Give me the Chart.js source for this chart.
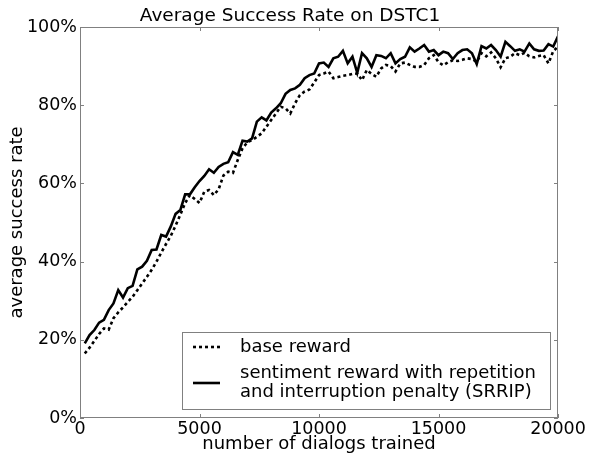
<!DOCTYPE html>
<html><head><meta charset="utf-8">
<script src="https://cdn.jsdelivr.net/npm/chart.js@4"></script>
<style>html,body{margin:0;padding:0;background:#fff}</style>
</head><body>
<canvas id="c" width="589" height="454"></canvas>
<script>
const dialogs = [200,400,600,800,1000,1200,1400,1600,1800,2000,2200,2400,2600,2800,3000,3200,3400,3600,3800,4000,
4200,4400,4600,4800,5000,5200,5400,5600,5800,6000,6200,6400,6600,6800,7000,7200,7400,7600,7800,8000,
8200,8400,8600,8800,9000,9200,9400,9600,9800,10000,10200,10400,10600,10800,11000,11200,11400,11600,11800,12000,
12200,12400,12600,12800,13000,13200,13400,13600,13800,14000,14200,14400,14600,14800,15000,15200,15400,15600,15800,16000,
16200,16400,16600,16800,17000,17200,17400,17600,17800,18000,18200,18400,18600,18800,19000,19200,19400,19600,19800,20000];
const baseReward = [16.5,18.0,19.7,21.5,22.9,22.6,25.5,27.0,28.3,29.7,31.0,32.7,34.4,36.1,37.9,40.0,42.3,44.5,46.6,49.2,
52.0,55.0,57.0,56.0,55.0,57.9,58.3,57.0,58.5,62.0,63.0,62.7,66.0,69.0,70.5,71.1,71.9,72.8,74.5,76.2,
77.9,79.6,79.2,77.9,80.5,82.6,83.5,84.0,85.8,87.7,88.1,88.6,86.9,87.2,87.5,87.7,88.0,88.1,86.4,89.0,
88.0,87.3,89.4,90.3,90.0,88.6,90.7,90.9,90.3,89.8,89.8,90.3,92.0,92.8,91.0,90.2,91.0,91.5,91.3,91.6,
92.0,91.8,91.1,93.3,92.5,93.5,92.0,89.7,92.0,92.4,93.3,92.8,93.4,92.5,92.2,92.6,92.8,90.7,93.8,95.0];
const srrip = [19.1,21.2,22.5,24.4,25.1,27.6,29.3,32.7,30.8,33.2,33.8,38.0,38.7,40.2,43.0,43.1,46.8,46.4,49.0,52.2,
53.2,57.2,57.2,59.0,60.6,61.9,63.6,62.7,64.2,65.0,65.4,68.0,67.3,70.9,70.7,71.5,75.8,76.9,76.1,78.1,
79.2,80.5,82.9,83.9,84.3,85.2,86.9,87.7,88.1,90.7,90.9,89.8,92.0,92.4,93.9,90.7,92.4,88.3,93.3,92.0,
89.8,92.8,92.6,92.0,93.3,90.7,91.8,92.4,94.8,93.7,94.5,95.4,93.7,94.1,92.8,93.7,93.3,91.8,93.3,94.1,
94.3,93.3,90.5,95.1,94.5,95.4,94.1,92.4,96.2,95.1,93.9,94.3,93.7,95.8,94.3,93.9,94.0,95.6,95.0,97.6];
const xTicks = [0,5000,10000,15000,20000];
const yTicks = [0,20,40,60,80,100];
const titleText = 'Average Success Rate on DSTC1';
const xTitle = 'number of dialogs trained';
const yTitle = 'average success rate';
const legendBase = ['base reward'];
const legendSrrip = ['sentiment reward with repetition','and interruption penalty (SRRIP)'];

const FONT = "'DejaVu Sans', sans-serif";
const AXIS_GRAY = '#808080';

const toPts = (ys) => ys.map((v, i) => ({x: dialogs[i], y: v}));

const framePlugin = {
  id: 'frame',
  afterDatasetsDraw(chart) {
    const {ctx, chartArea: a, scales} = chart;
    ctx.save();
    ctx.strokeStyle = AXIS_GRAY;
    ctx.lineWidth = 1;
    ctx.strokeRect(a.left + 0.5, a.top + 0.5, a.right - a.left - 1, a.bottom - a.top - 1);
    ctx.beginPath();
    const tl = 4;
    xTicks.forEach(v => {
      const px = Math.round(scales.x.getPixelForValue(v)) + 0.5;
      ctx.moveTo(px, a.bottom); ctx.lineTo(px, a.bottom - tl);
      ctx.moveTo(px, a.top); ctx.lineTo(px, a.top + tl);
    });
    yTicks.forEach(v => {
      const py = Math.round(scales.y.getPixelForValue(v)) + 0.5;
      ctx.moveTo(a.left, py); ctx.lineTo(a.left + tl, py);
      ctx.moveTo(a.right, py); ctx.lineTo(a.right - tl, py);
    });
    ctx.stroke();

    // legend
    const bx = 182, by = 332, bw = 368, bh = 77;
    ctx.fillStyle = '#fff';
    ctx.fillRect(bx, by, bw, bh);
    ctx.strokeStyle = AXIS_GRAY;
    ctx.strokeRect(bx + 0.5, by + 0.5, bw, bh);
    const ds = chart.data.datasets;
    ctx.fillStyle = '#000';
    ctx.font = '18px ' + FONT;
    ctx.textBaseline = 'middle';
    ctx.textAlign = 'left';
    ctx.strokeStyle = ds[0].borderColor;
    ctx.lineWidth = ds[0].borderWidth;
    ctx.setLineDash(ds[0].borderDash);
    ctx.beginPath(); ctx.moveTo(193, 347); ctx.lineTo(220, 347); ctx.stroke();
    legendBase.forEach((t, i) => ctx.fillText(t, 240, 347 + i * 20));
    ctx.setLineDash([]);
    ctx.strokeStyle = ds[1].borderColor;
    ctx.lineWidth = ds[1].borderWidth;
    ctx.beginPath(); ctx.moveTo(193, 383); ctx.lineTo(220, 383); ctx.stroke();
    legendSrrip.forEach((t, i) => ctx.fillText(t, 240, 373 + i * 19));

    // title
    ctx.font = '18.5px ' + FONT;
    ctx.textAlign = 'center';
    ctx.fillText(titleText, 290, 16);
    ctx.restore();
  }
};

new Chart(document.getElementById('c'), {
  type: 'line',
  data: {
    datasets: [
      {label: legendBase.join(' '), data: toPts(baseReward), borderColor: '#000', borderWidth: 2.6,
       borderDash: [3, 3], pointRadius: 0, fill: false, tension: 0},
      {label: legendSrrip.join(' '), data: toPts(srrip), borderColor: '#000', borderWidth: 2.6,
       pointRadius: 0, fill: false, tension: 0}
    ]
  },
  options: {
    responsive: false,
    animation: false,
    layout: {padding: {top: 27, right: 31, left: 0, bottom: 0}},
    plugins: {legend: {display: false}, tooltip: {enabled: false}, title: {display: false}},
    scales: {
      x: {
        type: 'linear', min: 0, max: 20000,
        afterBuildTicks: (s) => { s.ticks = xTicks.map(v => ({value: v})); },
        afterFit: (s) => { s.height = 36; },
        grid: {display: false, drawTicks: false},
        border: {display: false},
        ticks: {color: '#000', font: {family: FONT, size: 17.5}, padding: 1, maxRotation: 0, autoSkip: false,
                callback: (v) => String(v)},
        title: {display: true, text: xTitle, color: '#000', font: {family: FONT, size: 18, lineHeight: 1.05}, padding: {top: 0, bottom: 0}}
      },
      y: {
        type: 'linear', min: 0, max: 100,
        afterBuildTicks: (s) => { s.ticks = yTicks.map(v => ({value: v})); },
        afterFit: (s) => { s.width = 80; },
        grid: {display: false, drawTicks: false},
        border: {display: false},
        ticks: {color: '#000', font: {family: FONT, size: 17.5}, padding: 3, callback: (v) => v + '%'},
        title: {display: true, text: yTitle, color: '#000', font: {family: FONT, size: 18}, padding: {top: 7, bottom: 0}}
      }
    }
  },
  plugins: [framePlugin]
});
</script>
</body></html>
